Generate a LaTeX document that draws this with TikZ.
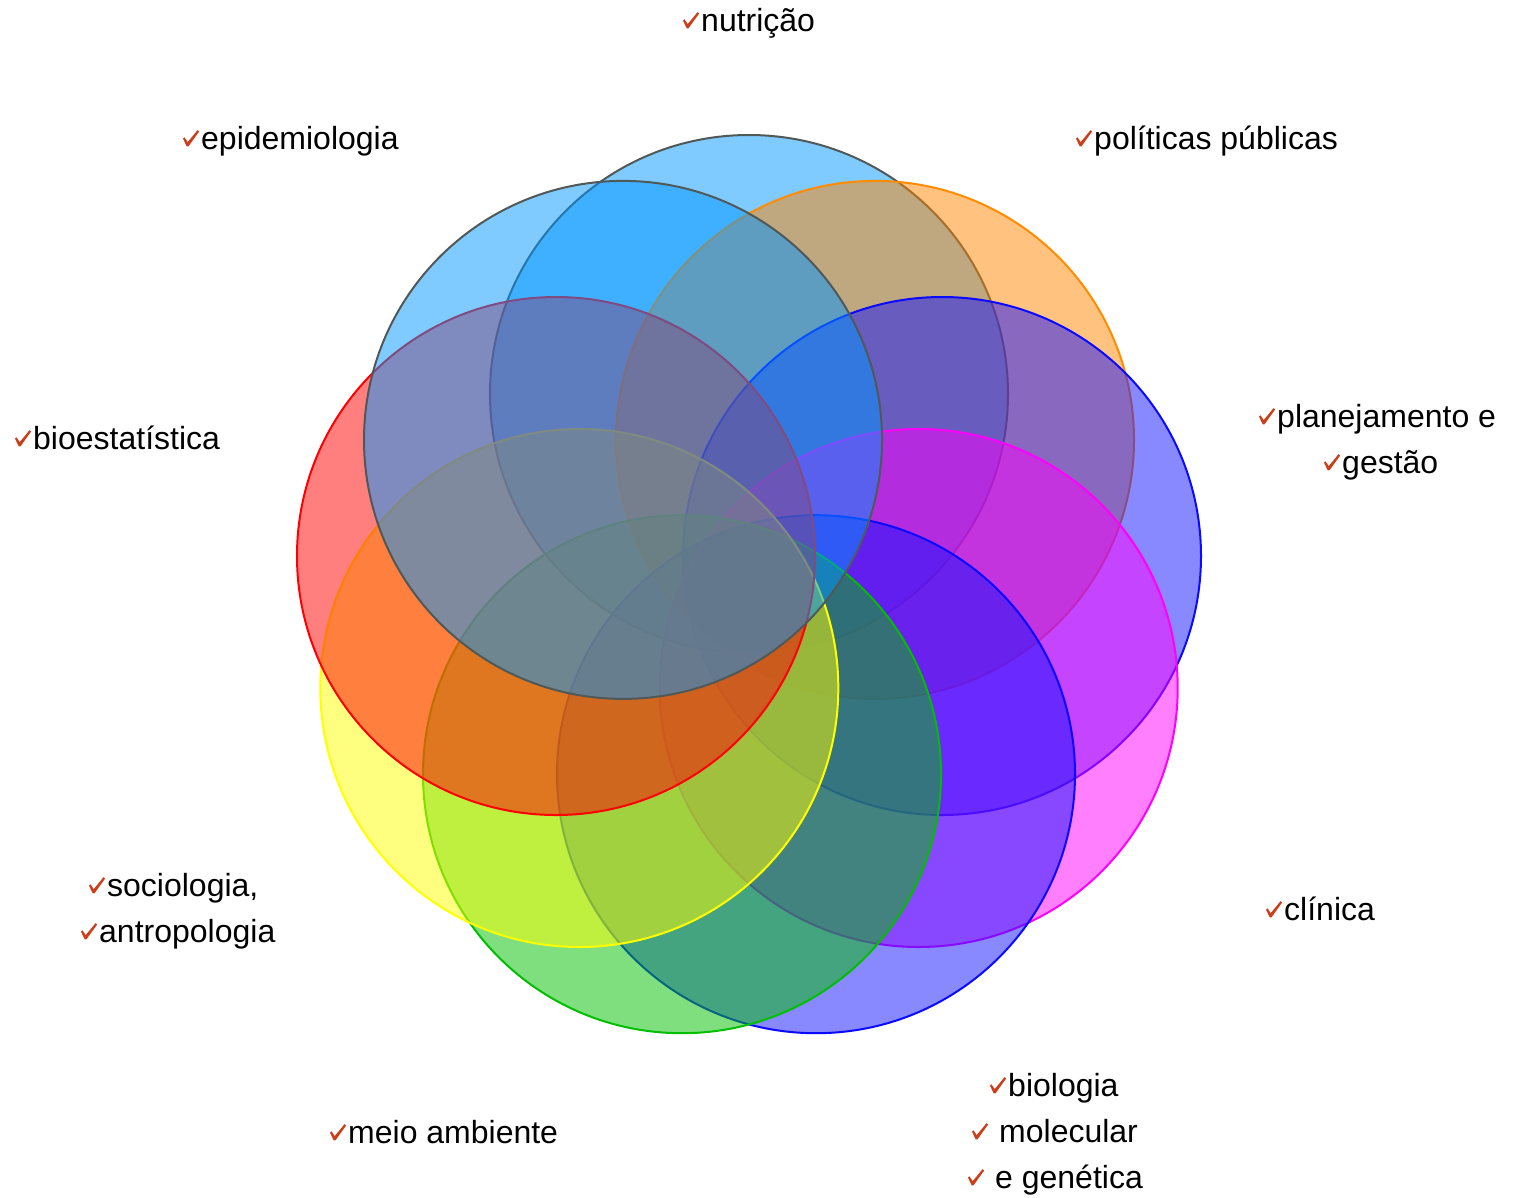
\documentclass[tikz,border=0pt]{standalone}
\usepackage{fontspec}
\setmainfont{Liberation Sans}
\definecolor{skyfill}{RGB}{0,150,255}
\definecolor{greyline}{RGB}{80,88,88}
\definecolor{orangefill}{RGB}{255,133,0}
\definecolor{orangeline}{RGB}{255,140,0}
\definecolor{bluefill}{RGB}{18,18,255}
\definecolor{blueline}{RGB}{10,10,255}
\definecolor{pinkfill}{RGB}{255,0,255}
\definecolor{greenfill}{RGB}{0,192,0}
\definecolor{greenline}{RGB}{0,190,0}
\definecolor{yellowfill}{RGB}{255,255,0}
\definecolor{redfill}{RGB}{255,0,0}
\definecolor{tickred}{RGB}{204,62,26}
\begin{document}
\begin{tikzpicture}[x=1pt,y=-1pt,
  petal/.style 2 args={circle, minimum size=518pt, inner sep=0pt,
    line width=2pt, draw=#1, fill=#2, fill opacity=0.5},
  lbl/.style={anchor=base west, inner sep=0pt, font=\fontsize{32}{38}\selectfont},
  chk/.pic={\fill[tickred] (0,-10.4) -- (1.5,-11.7) -- (4.7,-6.9) -- (14.5,-18.8)
    -- (16.2,-17.6) -- (5.4,-2.6) -- (3.7,-2.6) -- cycle;}
]
\useasboundingbox (0,0) rectangle (1515,1197);

% nine overlapping circles on a ring, drawn clockwise from the top;
% the upper-left one is laid over all the others
\node[petal={greyline}{skyfill}]       (cnut) at (749,394)   {};
\node[petal={orangeline}{orangefill}]  (cpol) at (875,439.9) {};
\node[petal={blueline}{bluefill}]      (cpla) at (942,556)   {};
\node[petal={pinkfill}{pinkfill}]      (ccli) at (918.7,688) {};
\node[petal={blueline}{bluefill}]      (cbio) at (816,774.2) {};
\node[petal={greenline}{greenfill}]    (cmei) at (682,774.2) {};
\node[petal={yellowfill}{yellowfill}]  (csoc) at (579.3,688) {};
\node[petal={redfill}{redfill}]        (cest) at (556,556)   {};
\node[petal={greyline}{skyfill}]       (cepi) at (623,439.9) {};

% labels
\node[lbl] (nutr) at (701,31)    {nutrição};
\node[lbl] (epid) at (201,149)   {epidemiologia};
\node[lbl] (poli) at (1094,149)  {políticas públicas};
\node[lbl] (bioe) at (33,449)    {bioestatística};
\node[lbl] (plan) at (1277,427)  {planejamento e};
\node[lbl] (gest) at (1342,473)  {gestão};
\node[lbl] (soci) at (107,896)   {sociologia,};
\node[lbl] (antr) at (99,942)    {antropologia};
\node[lbl] (clin) at (1284,920)  {clínica};
\node[lbl] (meio) at (348,1143)  {meio ambiente};
\node[lbl] (biol) at (1008,1096) {biologia};
\node[lbl] (mole) at (999,1142)  {molecular};
\node[lbl] (gene) at (995,1188)  {e genética};

% check marks in front of each line
\foreach \n in {nutr,epid,poli,bioe,plan,gest,soci,antr,clin,meio,biol}
  \pic at ([xshift=-18pt]\n.base west) {chk};
\foreach \n in {mole,gene}
  \pic at ([xshift=-27pt]\n.base west) {chk};
\end{tikzpicture}
\end{document}
